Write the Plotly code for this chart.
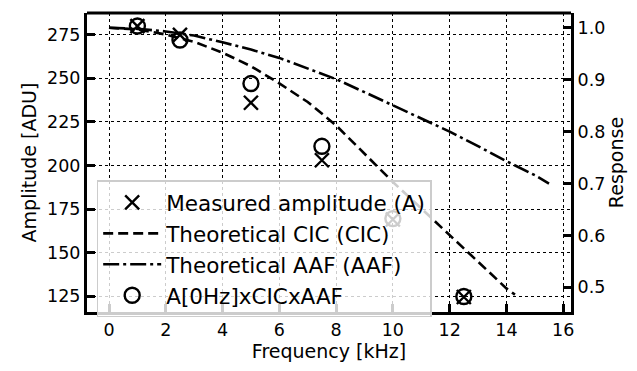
import plotly.graph_objects as go

# Measured data (left axis, ADU)
freq_meas = [1.0, 2.5, 5.0, 7.5, 10.0, 12.5]
amp_meas = [280, 275, 236, 203, 169, 124.5]
amp_pred = [280, 272, 247, 211, 169.5, 124.8]

# Theoretical responses (right axis)
cic_freq = [0, 1, 2, 3, 4, 5, 6, 7, 8, 9, 10, 11, 12, 13, 14, 14.3]
cic_resp = [1.0, 0.997, 0.987, 0.973, 0.952, 0.926, 0.893, 0.857, 0.812, 0.757,
            0.703, 0.652, 0.600, 0.550, 0.498, 0.486]
aaf_freq = [0, 1, 2, 3, 4, 5, 6, 7, 8, 9, 10, 11, 12, 13, 14, 15, 15.5]
aaf_resp = [1.0, 0.998, 0.993, 0.985, 0.972, 0.958, 0.942, 0.922, 0.901, 0.876,
            0.851, 0.825, 0.800, 0.772, 0.743, 0.716, 0.700]

x_ticks = [0, 2, 4, 6, 8, 10, 12, 14, 16]
y_ticks = [125, 150, 175, 200, 225, 250, 275]
y2_ticks = [0.5, 0.6, 0.7, 0.8, 0.9, 1.0]

FONT = "DejaVu Sans"

fig = go.Figure()
fig.add_trace(go.Scatter(
    x=freq_meas, y=amp_meas, mode="markers", name="Measured amplitude (A)",
    marker=dict(symbol="x-thin-open", size=14, color="black",
                line=dict(width=2.4, color="black")),
    yaxis="y"))
fig.add_trace(go.Scatter(
    x=cic_freq, y=cic_resp, mode="lines", name="Theoretical CIC (CIC)",
    line=dict(color="black", width=2.6, dash="10px,5px"), yaxis="y2"))
fig.add_trace(go.Scatter(
    x=aaf_freq, y=aaf_resp, mode="lines", name="Theoretical AAF (AAF)",
    line=dict(color="black", width=2.6, dash="16px,4px,3px,4px"), yaxis="y2"))
fig.add_trace(go.Scatter(
    x=freq_meas, y=amp_pred, mode="markers", name="A[0Hz]xCICxAAF",
    marker=dict(symbol="circle-open", size=15, color="black",
                line=dict(width=2.4, color="black")),
    yaxis="y"))

axis_common = dict(
    showline=True, linecolor="black", linewidth=3, mirror=False,
    ticks="inside", ticklen=8, tickwidth=2.5, tickcolor="black",
    tickfont=dict(family=FONT, size=17.5, color="black"),
    zeroline=False,
)

TITLE_FONT = dict(family=FONT, size=19, color="black")

fig.update_layout(
    width=637, height=371,
    margin=dict(l=87, r=65, t=13, b=55),
    paper_bgcolor="white", plot_bgcolor="white",
    font=dict(family=FONT, color="black"),
    showlegend=True,
    legend=dict(
        x=0.02, y=0.44, xanchor="left", yanchor="top",
        bgcolor="rgba(255,255,255,0.8)", bordercolor="#cccccc", borderwidth=1.5,
        font=dict(family=FONT, size=21.5, color="black"),
        tracegroupgap=0, itemwidth=58,
    ),
    xaxis=dict(
        **axis_common,
        range=[-0.775, 16.275], tickvals=x_ticks,
        showgrid=True, gridcolor="black", gridwidth=1, griddash="dot",
        title=dict(text="Frequency [kHz]", font=TITLE_FONT, standoff=6),
    ),
    yaxis=dict(
        **axis_common,
        range=[115.9, 287.5], tickvals=y_ticks,
        showgrid=True, gridcolor="black", gridwidth=1, griddash="dot",
        title=dict(text="Amplitude [ADU]", font=TITLE_FONT, standoff=6),
    ),
    yaxis2=dict(
        **axis_common,
        overlaying="y", side="right",
        range=[0.4525, 1.0285], tickvals=y2_ticks, tickformat=".1f",
        showgrid=False,
        title=dict(text="Response", font=TITLE_FONT, standoff=6),
    ),
)

# top border line
fig.add_shape(type="line", xref="paper", yref="paper", x0=0, x1=1, y0=1, y1=1,
              line=dict(color="black", width=3))

fig.write_html("out.html")
